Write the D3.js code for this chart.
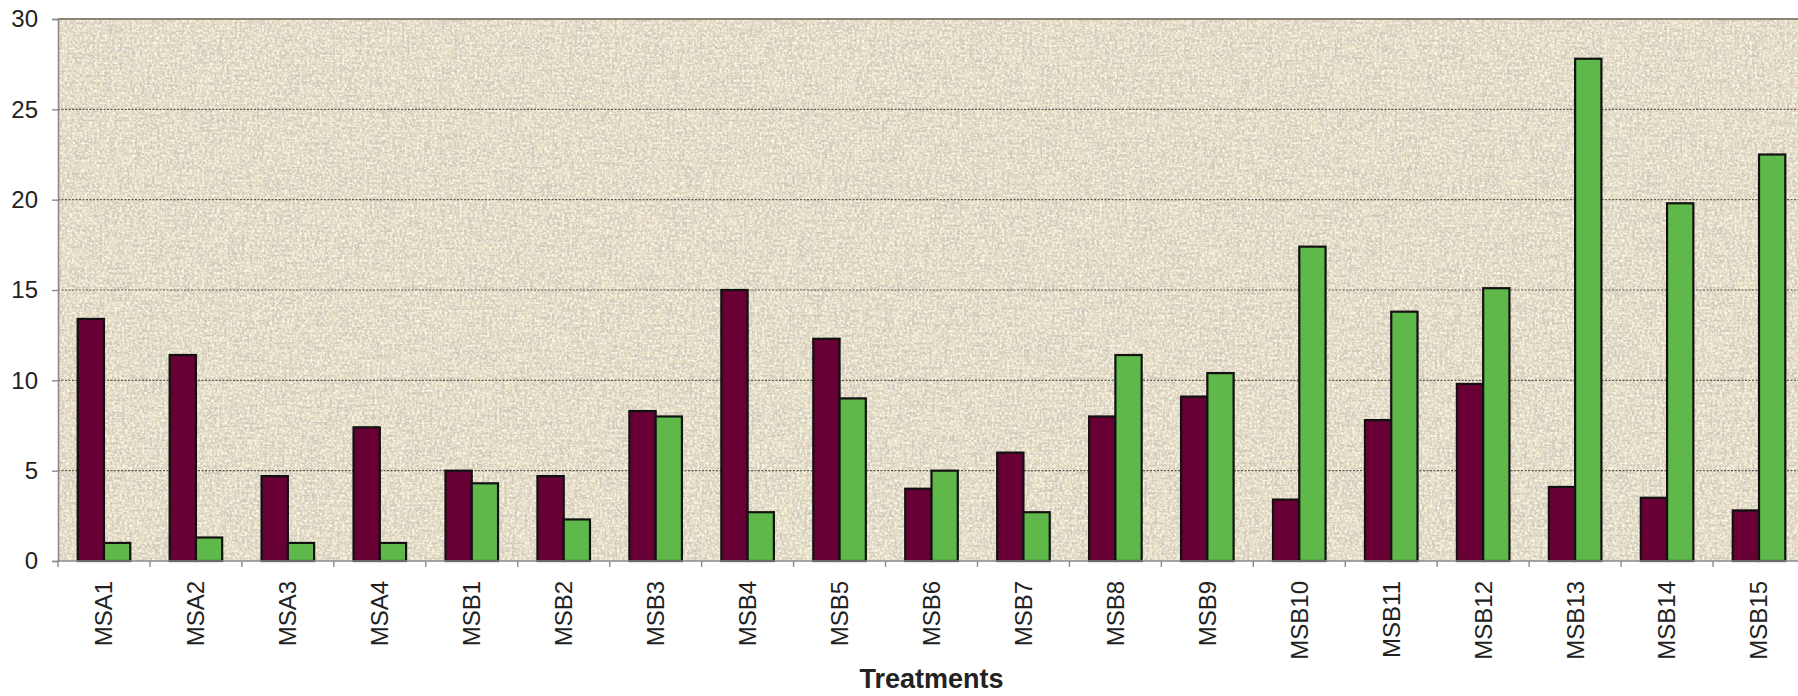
<!DOCTYPE html>
<html>
<head>
<meta charset="utf-8">
<script src="https://cdn.jsdelivr.net/npm/d3@7"></script>
<style>
  html, body { margin: 0; padding: 0; background: #ffffff; }
  svg { display: block; }
  text { font-family: "Liberation Sans", Arial, sans-serif; fill: #222; }
</style>
</head>
<body>
<svg id="chart" width="1798" height="696"></svg>
<script>
// Treatments along the x axis
const categories = ["MSA1", "MSA2", "MSA3", "MSA4", "MSB1", "MSB2", "MSB3", "MSB4", "MSB5",
  "MSB6", "MSB7", "MSB8", "MSB9", "MSB10", "MSB11", "MSB12", "MSB13", "MSB14", "MSB15"];

// First series (maroon bars)
const seriesA = [13.4, 11.4, 4.7, 7.4, 5.0, 4.7, 8.3, 15.0, 12.3,
  4.0, 6.0, 8.0, 9.1, 3.4, 7.8, 9.8, 4.1, 3.5, 2.8];

// Second series (green bars)
const seriesB = [1.0, 1.3, 1.0, 1.0, 4.3, 2.3, 8.0, 2.7, 9.0,
  5.0, 2.7, 11.4, 10.4, 17.4, 13.8, 15.1, 27.8, 19.8, 22.5];

const yTicks = [0, 5, 10, 15, 20, 25, 30];
const xTitle = "Treatments";

const series = [
  { key: "a", values: seriesA, color: "#690035" },
  { key: "b", values: seriesB, color: "#5fb94a" }
];

const svg = d3.select("#chart");
const plot = { left: 58, top: 19, right: 1805, bottom: 561 };

const x = d3.scaleBand()
  .domain(categories)
  .range([plot.left, plot.right])
  .paddingInner(0)
  .paddingOuter(0);

const xInner = d3.scaleBand()
  .domain(series.map(s => s.key))
  .range([0, x.bandwidth()])
  .paddingInner(0)
  .paddingOuter(0.75);

const y = d3.scaleLinear()
  .domain([0, 30])
  .range([plot.bottom, plot.top]);

// Woven canvas texture for the plot background
const defs = svg.append("defs");

function noiseFilter(id, freq, seed, octaves, rgb, gain, bias) {
  const f = defs.append("filter").attr("id", id)
    .attr("x", 0).attr("y", 0).attr("width", 1).attr("height", 1);
  f.append("feTurbulence")
    .attr("type", "fractalNoise").attr("baseFrequency", freq)
    .attr("numOctaves", octaves).attr("seed", seed);
  f.append("feColorMatrix").attr("type", "matrix")
    .attr("values", `0 0 0 0 ${rgb[0]}  0 0 0 0 ${rgb[1]}  0 0 0 0 ${rgb[2]}  ${gain} 0 0 0 ${bias}`);
}
noiseFilter("weaveH", "0.03 0.45", 7, 3, [0.62, 0.56, 0.47], 3.0, -1.25);
noiseFilter("weaveV", "0.45 0.03", 11, 3, [0.64, 0.57, 0.49], 3.0, -1.25);
noiseFilter("grain", "0.5 0.5", 5, 2, [0.68, 0.6, 0.52], 2.2, -0.95);
noiseFilter("speck", "0.4 0.4", 3, 2, [0.99, 0.98, 0.86], 2.4, -0.95);

const bgW = plot.right - plot.left, bgH = plot.bottom - plot.top;
const bg = svg.append("g");
bg.append("rect").attr("x", plot.left).attr("y", plot.top)
  .attr("width", bgW).attr("height", bgH).attr("fill", "#e9e0c1");
["grain", "weaveH", "weaveV", "speck"].forEach(id => {
  bg.append("rect").attr("x", plot.left).attr("y", plot.top)
    .attr("width", bgW).attr("height", bgH).attr("filter", `url(#${id})`);
});

// Dotted horizontal gridlines
svg.append("g")
  .selectAll("line")
  .data(yTicks.filter(t => t > 0 && t < 30))
  .join("line")
  .attr("x1", plot.left).attr("x2", plot.right)
  .attr("y1", d => y(d)).attr("y2", d => y(d))
  .attr("stroke", "#5e5a50")
  .attr("stroke-width", 1.2)
  .attr("stroke-dasharray", "2,1.5");

// Top frame
svg.append("line")
  .attr("x1", plot.left).attr("x2", plot.right)
  .attr("y1", y(30)).attr("y2", y(30))
  .attr("stroke", "#8c8474").attr("stroke-width", 2);

// Bars
const groups = svg.append("g")
  .selectAll("g")
  .data(categories)
  .join("g")
  .attr("transform", d => `translate(${x(d)},0)`);

groups.selectAll("rect")
  .data((d, i) => series.map(s => ({ key: s.key, value: s.values[i], color: s.color })))
  .join("rect")
  .attr("x", d => xInner(d.key))
  .attr("y", d => y(d.value))
  .attr("width", xInner.bandwidth())
  .attr("height", d => y(0) - y(d.value))
  .attr("fill", d => d.color)
  .attr("stroke", "#111")
  .attr("stroke-width", 2.2);

// Y axis
const yAxis = svg.append("g")
  .attr("transform", `translate(${plot.left},0)`)
  .call(d3.axisLeft(y).tickValues(yTicks).tickSize(6).tickPadding(14));
yAxis.select(".domain").attr("stroke", "#8a8a8a").attr("stroke-width", 1.6);
yAxis.selectAll(".tick line").attr("stroke", "#8a8a8a").attr("stroke-width", 1.4);
yAxis.selectAll(".tick text")
  .attr("font-size", 24)
  .attr("fill", "#222")
  .attr("font-family", "Liberation Sans, Arial, sans-serif");

// X axis with ticks at category boundaries
const xAxis = svg.append("g")
  .attr("transform", `translate(0,${plot.bottom})`);
xAxis.append("line")
  .attr("x1", plot.left).attr("x2", plot.right)
  .attr("y1", 0).attr("y2", 0)
  .attr("stroke", "#8a8a8a").attr("stroke-width", 1.6);
xAxis.selectAll("line.tick")
  .data(categories)
  .join("line")
  .attr("class", "tick")
  .attr("x1", d => x(d)).attr("x2", d => x(d))
  .attr("y1", 0).attr("y2", 6)
  .attr("stroke", "#8a8a8a").attr("stroke-width", 1.4);
xAxis.selectAll("text")
  .data(categories)
  .join("text")
  .attr("transform", d => `translate(${x(d) + x.bandwidth() / 2},20) rotate(-90)`)
  .attr("text-anchor", "end")
  .attr("dy", "0.35em")
  .attr("font-size", 24)
  .text(d => d);

// Axis title
svg.append("text")
  .attr("x", (plot.left + plot.right) / 2)
  .attr("y", 688)
  .attr("text-anchor", "middle")
  .attr("font-size", 27)
  .attr("font-weight", "bold")
  .text(xTitle);
</script>
</body>
</html>
